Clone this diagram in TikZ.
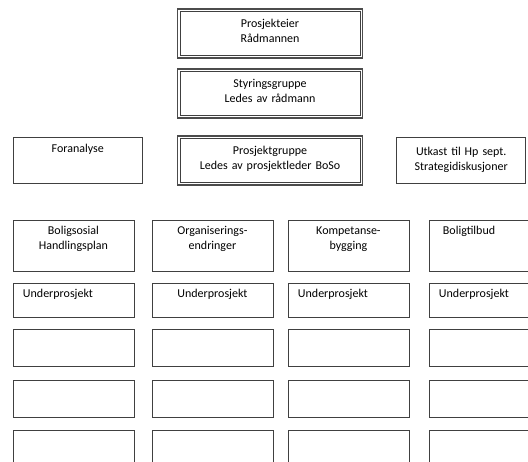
\documentclass[tikz,border=0pt]{standalone}
\usepackage{fontspec}
\setmainfont{Carlito}
\usetikzlibrary{positioning}

\begin{document}
\begin{tikzpicture}[
      x=1pt, y=-1pt,
      font=\fontsize{12}{15}\selectfont,
      box/.style={draw=black!75, line width=0.9pt, inner sep=0pt, align=center},
      rim/.style={draw=black!70, line width=1.6pt},
      lead/.style={box, line width=0.6pt, text width=180pt, text height=16pt, text depth=28pt,
                   append after command={\pgfextra{\draw[rim]
                     ([shift={(-2.3pt,2.3pt)}]\tikzlastnode.north west) rectangle
                     ([shift={(2.3pt,-2.3pt)}]\tikzlastnode.south east);}}},
      side/.style={box, text width=129pt, text height=18pt, text depth=28pt},
      head/.style={box, text width=121pt, text height=15pt, text depth=36pt},
      sub/.style={box, text width=101pt, inner xsep=10pt, align=left,
                  text height=14pt, text depth=20pt},
      cell/.style={box, minimum width=121pt, minimum height=37pt}
    ]
      \useasboundingbox (0,0) rectangle (528,461);
      % leadership
      \node[lead, anchor=north] (eier)  at (270,11.1)  {Prosjekteier\\Rådmannen};
      \node[lead, anchor=north] (styr)  at (270,71.1)  {Styringsgruppe\\Ledes av rådmann};
      \node[lead, anchor=north] (pgrp)  at (270,138.1) {Prosjektgruppe\\Ledes av prosjektleder BoSo};
      \node[side, left=37pt of pgrp, text height=15pt, text depth=31pt] (foran) {Foranalyse};
      \node[side, right=36pt of pgrp] (utkast) {Utkast til Hp sept.\\Strategidiskusjoner};
      % sub projects
      \foreach \x/\txt/\hal/\hix/\sal [count=\i] in {
          12.5/{Boligsosial\\Handlingsplan}/center/0/left,
          151.5/{Organiserings-\\endringer}/center/0/center,
          287.5/{Kompetanse-\\bygging}/center/0/left,
          428.5/{Boligtilbud}/left/14/left}{
        \node[head, align=\hal, inner xsep=\hix pt, text width=121pt-2*\hix pt,
              anchor=north west] (head\i) at (\x,219.5) {\txt};
        \node[sub, align=\sal, below=11.5pt of head\i] (sub\i) {Underprosjekt};
        \node[cell, below=11.5pt of sub\i]  (cell\i a) {};
        \node[cell, below=12.5pt of cell\i a] (cell\i b) {};
        \node[cell, below=12.5pt of cell\i b] (cell\i c) {};
      }
    \end{tikzpicture}
\end{document}
